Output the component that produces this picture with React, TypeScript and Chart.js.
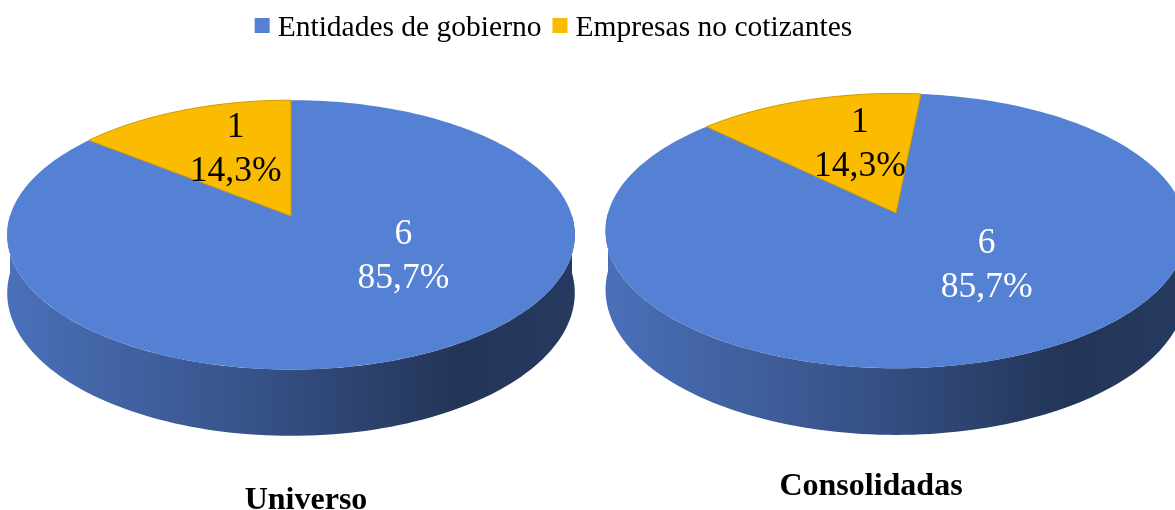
import React, { useEffect, useRef } from "react";
import { Chart, registerables } from "chart.js";

Chart.register(...registerables);

// ---------------- data ----------------
const categories = ["Entidades de gobierno", "Empresas no cotizantes"];
const pieTitles = ["Universo", "Consolidadas"];
const universoValues = [6, 1];
const consolidadasValues = [6, 1];
const sliceColors = ["#5581d5", "#fabb00"];
const labelColors = ["#ffffff", "#000000"];

// ---------------- layout / style ----------------
const W = 1175;
const H = 510;
const SERIF = "'Liberation Serif', 'Times New Roman', serif";

type PieLayout = {
  cx: number;
  cy: number;
  r: number;
  ky: number;
  persp: number;
  depth: number;
  rotation: number;
  titleX: number;
  titleY: number;
  labelShift: number[];
  labelR: number[];
};

const PIE_LAYOUT: PieLayout[] = [
  { cx: 291, cy: 216, r: 281, ky: 0.47, persp: 0.14, depth: 57, rotation: 0, titleX: 306, titleY: 509, labelShift: [-28.5, 5], labelR: [0.474, 0.6] },
  { cx: 896, cy: 213, r: 288, ky: 0.469, persp: 0.13, depth: 58, rotation: 5.6, titleX: 871, titleY: 495, labelShift: [-20, 6.6], labelR: [0.466, 0.576] },
];

const LEGEND = { centerX: 553.5, boxTop: 18, box: 15, gap: 8, itemGap: 11, baseline: 36, font: `29.5px ${SERIF}` };

function hexToRgb(hex: string) {
  const h = hex.replace("#", "");
  return [parseInt(h.slice(0, 2), 16), parseInt(h.slice(2, 4), 16), parseInt(h.slice(4, 6), 16)];
}
function shade(hex: string, f: number) {
  const [r, g, b] = hexToRgb(hex);
  return `rgb(${Math.round(r * f)},${Math.round(g * f)},${Math.round(b * f)})`;
}

function proj(p: PieLayout, theta: number, rr: number, dy = 0): [number, number] {
  const s = Math.sin(theta);
  const c = Math.cos(theta);
  const w = 1 / (1 - p.persp * rr * s);
  return [p.cx + p.r * rr * c * w, p.cy + (p.r * p.ky * rr * s + dy) * w];
}

function wallPath(ctx: CanvasRenderingContext2D, p: PieLayout, t1: number, t2: number) {
  const N = Math.max(8, Math.ceil(((t2 - t1) / Math.PI) * 120));
  ctx.beginPath();
  for (let i = 0; i <= N; i++) {
    const t = t1 + ((t2 - t1) * i) / N;
    const [x, y] = proj(p, t, 1);
    if (i === 0) ctx.moveTo(x, y);
    else ctx.lineTo(x, y);
  }
  for (let i = N; i >= 0; i--) {
    const t = t1 + ((t2 - t1) * i) / N;
    const [x, y] = proj(p, t, 1, p.depth);
    ctx.lineTo(x, y);
  }
  ctx.closePath();
}

function topPath(ctx: CanvasRenderingContext2D, p: PieLayout, a1: number, a2: number) {
  const N = Math.max(6, Math.ceil(((a2 - a1) / Math.PI) * 120));
  ctx.beginPath();
  ctx.moveTo(p.cx, p.cy);
  for (let i = 0; i <= N; i++) {
    const t = a1 + ((a2 - a1) * i) / N;
    const [x, y] = proj(p, t, 1);
    ctx.lineTo(x, y);
  }
  ctx.closePath();
}

const fmtPct = (v: number, total: number) => (Math.round((v / total) * 1000) / 10).toFixed(1).replace(".", ",") + "%";

const pie3dPlugin = {
  id: "pie3d",
  beforeDatasetsDraw(chart: any) {
    const ctx: CanvasRenderingContext2D = chart.ctx;
    ctx.save();
    chart.data.datasets.forEach((ds: any, di: number) => {
      const p = PIE_LAYOUT[di];
      const meta = chart.getDatasetMeta(di);
      const arcs = meta.data as any[];
      const colors = ds.backgroundColor as string[];
      // side walls (front half only)
      arcs.forEach((arc, i) => {
        const a1 = arc.startAngle;
        const a2 = arc.endAngle;
        for (let k = -1; k <= 1; k++) {
          const lo = Math.max(a1, k * 2 * Math.PI);
          const hi = Math.min(a2, k * 2 * Math.PI + Math.PI);
          if (hi > lo) {
            const g = ctx.createLinearGradient(p.cx - p.r, 0, p.cx + p.r, 0);
            g.addColorStop(0, shade(colors[i], 0.87));
            g.addColorStop(0.45, shade(colors[i], 0.63));
            g.addColorStop(0.8, shade(colors[i], 0.41));
            g.addColorStop(1, shade(colors[i], 0.45));
            wallPath(ctx, p, lo, hi);
            ctx.fillStyle = g;
            ctx.fill();
          }
        }
      });
      // top faces
      arcs.forEach((arc, i) => {
        topPath(ctx, p, arc.startAngle, arc.endAngle);
        ctx.fillStyle = colors[i];
        ctx.fill();
      });
      arcs.forEach((arc, i) => {
        if (i === 0) return;
        topPath(ctx, p, arc.startAngle, arc.endAngle);
        ctx.strokeStyle = shade(colors[i], 0.82);
        ctx.lineWidth = 1;
        ctx.stroke();
      });
      // labels
      const total = (ds.data as number[]).reduce((a, b) => a + b, 0);
      ctx.font = `35.5px ${SERIF}`;
      ctx.textAlign = "center";
      ctx.textBaseline = "alphabetic";
      arcs.forEach((arc, i) => {
        const mid = (arc.startAngle + arc.endAngle) / 2 + (p.labelShift[i] * Math.PI) / 180;
        const [x, y] = proj(p, mid, p.labelR[i]);
        ctx.fillStyle = labelColors[i];
        ctx.fillText(String(ds.data[i]), x, y - 10);
        ctx.fillText(fmtPct(ds.data[i], total), x, y + 34);
      });
      // title
      ctx.font = `bold 32px ${SERIF}`;
      ctx.fillStyle = "#000000";
      ctx.fillText(ds.label, p.titleX, p.titleY);
    });
    ctx.restore();
    return false;
  },
  afterDraw(chart: any) {
    const ctx: CanvasRenderingContext2D = chart.ctx;
    const labels = chart.data.labels as string[];
    const colors = chart.data.datasets[0].backgroundColor as string[];
    ctx.save();
    ctx.font = LEGEND.font;
    const widths = labels.map((l) => ctx.measureText(l).width);
    const total =
      widths.reduce((a, b) => a + b, 0) + labels.length * (LEGEND.box + LEGEND.gap) + (labels.length - 1) * LEGEND.itemGap;
    let x = LEGEND.centerX - total / 2;
    ctx.textAlign = "left";
    ctx.textBaseline = "alphabetic";
    labels.forEach((l, i) => {
      ctx.fillStyle = colors[i];
      ctx.fillRect(x, LEGEND.boxTop, LEGEND.box, LEGEND.box);
      x += LEGEND.box + LEGEND.gap;
      ctx.fillStyle = "#000000";
      ctx.fillText(l, x, LEGEND.baseline);
      x += widths[i] + LEGEND.itemGap;
    });
    ctx.restore();
  },
};

export default function App() {
  const canvasRef = useRef<HTMLCanvasElement | null>(null);

  useEffect(() => {
    if (!canvasRef.current) return;
    const chart = new Chart(canvasRef.current, {
      type: "pie",
      data: {
        labels: categories,
        datasets: [
          { label: pieTitles[0], data: universoValues, backgroundColor: sliceColors, rotation: PIE_LAYOUT[0].rotation } as any,
          { label: pieTitles[1], data: consolidadasValues, backgroundColor: sliceColors, rotation: PIE_LAYOUT[1].rotation } as any,
        ],
      },
      options: {
        responsive: false,
        animation: false,
        events: [],
        layout: { padding: 0 },
        plugins: {
          legend: { display: false },
          tooltip: { enabled: false },
        },
      },
      plugins: [pie3dPlugin as any],
    });
    return () => chart.destroy();
  }, []);

  return (
    <div style={{ position: "absolute", left: 0, top: 0, width: W, height: H, overflow: "hidden", background: "#ffffff" }}>
      <canvas ref={canvasRef} width={W} height={H} style={{ display: "block", width: W, height: H }} />
    </div>
  );
}
